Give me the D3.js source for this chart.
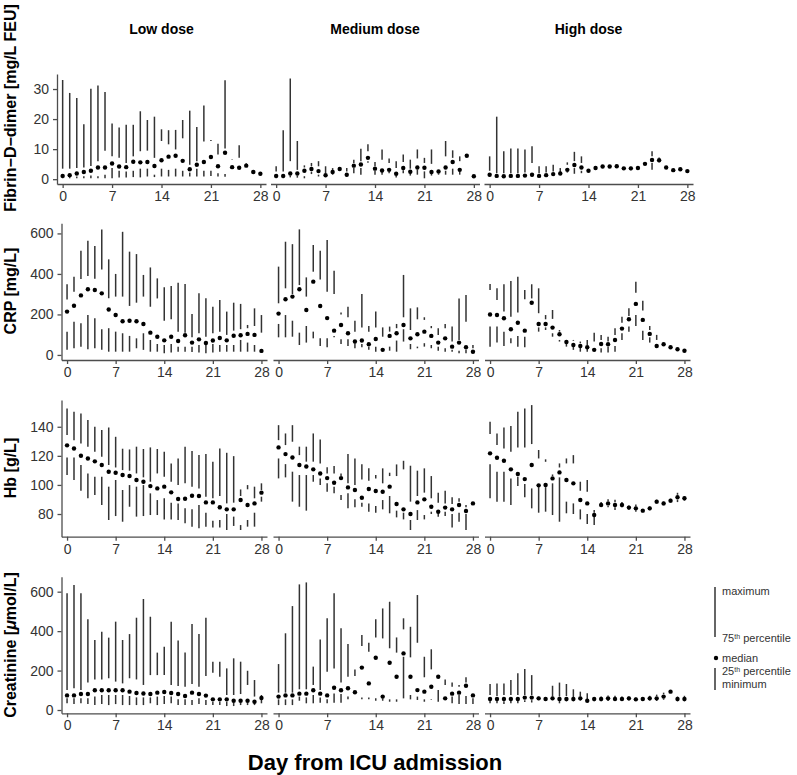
<!DOCTYPE html>
<html><head><meta charset="utf-8">
<script src="https://cdn.jsdelivr.net/npm/d3@7"></script>
<style>body{margin:0;background:#fff}text{font-family:"Liberation Sans",Arial,Helvetica,sans-serif}</style>
</head><body>
<svg id="chart" width="797" height="775"></svg>
<script>
const days = d3.range(0, 29);
const xTicks = [0, 7, 14, 21, 28];
const doses = ["Low dose", "Medium dose", "High dose"];
const rowTitles = ["Fibrin\u2212D\u2212dimer [mg/L FEU]", "CRP [mg/L]", "Hb [g/L]", "Creatinine [\u03bcmol/L]"];
const yTicksDdimer = [0, 10, 20, 30];
const yTicksCrp = [0, 200, 400, 600];
const yTicksHb = [80, 100, 120, 140];
const yTicksCreat = [0, 200, 400, 600];

// ---- Fibrin-D-dimer ----
const ddLowMin = [0.3,0.3,0.3,0.3,0.3,0.3,0.3,0.3,0.6,0.6,0.7,0.6,0.9,0.7,0.9,0.9,0.9,0.9,0.9,0.9,0.9,1.1,0.9,0.8,4.0,3.8,4.5,2.4,1.8];
const ddLowQ1  = [0.8,0.8,0.9,1.0,1.2,1.0,1.5,3.7,2.8,2.6,2.8,3.5,3.5,1.5,3.5,3.1,3.5,2.8,2.2,3.5,2.8,2.8,2.0,1.7,4.0,3.8,4.5,2.4,1.8];
const ddLowMed = [1.1,1.35,1.9,2.4,2.8,3.9,3.9,5.2,4.2,4.0,5.8,5.6,5.7,4.4,6.3,7.5,7.8,6.1,3.3,4.8,5.7,7.4,4.3,8.8,4.0,3.8,4.5,2.4,1.8];
const ddLowQ3  = [3.5,3.5,3.7,3.9,4.4,6.0,9.5,7.6,7.1,5.4,7.6,9.3,9.5,7.1,12.7,11.6,9.9,13.6,4.8,6.0,12.5,12.7,8.2,10.2,6.5,7.1,5.0,2.4,1.8];
const ddLowMax = [33.0,28.7,27.0,18.3,30.1,31.2,29.0,18.5,17.2,18.1,18.1,22.6,19.7,20.8,16.6,16.3,16.4,19.7,22.8,17.4,24.5,13.0,11.8,32.9,6.6,11.3,5.3,2.4,1.8];

const ddMedMin = [0.3,0.3,0.6,0.5,0.3,1.7,0.9,0.6,1.5,3.4,0.9,2.0,1.5,5.5,1.5,1.5,2.0,0.6,2.0,1.2,1.5,0.3,1.2,1.5,1.5,1.5,1.5,7.8,1.0];
const ddMedQ1  = [0.9,0.9,1.2,1.2,1.0,2.5,1.5,0.9,1.8,3.4,1.2,3.8,3.7,6.0,2.8,2.5,2.5,1.2,3.0,2.0,3.2,2.6,1.8,2.0,2.8,3.5,2.6,7.8,1.0];
const ddMedMed = [1.1,1.1,1.9,1.9,2.8,3.4,2.7,1.35,2.4,3.4,1.5,4.5,4.9,7.1,3.5,2.9,3.1,1.8,3.7,2.5,3.9,3.8,2.4,2.6,3.9,5.7,3.1,7.8,1.0];
const ddMedQ3  = [2.6,2.6,6.0,3.1,3.9,4.3,4.3,2.0,2.6,3.4,2.6,5.4,6.0,9.3,4.3,6.5,5.4,3.7,5.7,3.5,6.9,5.4,5.1,2.6,7.6,7.1,6.0,8.2,1.0];
const ddMedMax = [4.3,16.3,33.5,12.7,4.6,5.4,6.0,4.3,3.7,3.4,3.7,6.5,10.1,11.6,5.7,9.9,6.9,5.95,8.2,6.5,9.9,7.1,9.9,2.6,12.7,9.6,7.6,8.3,1.0];

const ddHighMin = [0.9,0.7,0.7,0.7,0.7,0.8,0.9,0.7,0.9,1.2,1.4,2.2,1.8,2.0,2.4,3.2,3.8,3.8,3.9,3.2,3.0,3.2,4.7,3.1,5.6,3.7,2.8,3.1,2.5];
const ddHighQ1  = [1.2,0.9,0.9,0.9,0.9,1.0,1.2,0.9,1.1,1.4,1.6,2.5,3.7,2.8,2.6,3.4,4.0,4.0,4.1,3.4,3.3,3.4,4.9,5.4,6.0,3.8,2.9,3.2,2.6];
const ddHighMed = [1.5,1.1,1.0,1.1,1.1,1.2,1.5,1.1,1.35,1.7,1.9,3.1,4.7,3.9,2.8,3.7,4.2,4.2,4.3,3.6,3.6,3.7,5.1,6.4,6.3,3.9,3.0,3.3,2.7];
const ddHighQ3  = [2.8,2.0,2.0,2.0,2.0,2.2,5.4,2.0,2.2,2.6,2.2,4.8,6.0,5.4,3.0,4.0,4.4,4.5,4.6,3.8,3.9,4.0,5.3,7.6,6.9,4.0,3.1,3.4,2.8];
const ddHighMax = [7.6,20.8,9.3,10.2,10.2,9.9,11.0,4.3,4.3,4.8,3.7,5.6,9.1,7.6,3.2,4.2,4.6,4.7,4.8,4.0,4.1,4.2,5.5,9.3,7.2,4.1,3.2,3.5,2.9];

// ---- CRP ----
const crpLowMin = [25,33,41,28,33,25,16,16,16,16,33,25,16,16,8,12,16,16,15,12,8,12,16,16,16,16,16,16,20];
const crpLowQ1  = [115,164,156,197,181,127,132,115,107,94,82,107,74,54,49,54,41,41,41,49,49,54,49,49,49,74,61,49,20];
const crpLowMed = [214,243,294,324,321,304,224,197,166,169,166,153,110,90,72,90,69,97,61,77,59,71,84,72,95,97,104,99,20];
const crpLowQ3  = [274,312,375,390,376,422,280,288,288,242,258,288,238,279,169,176,115,110,87,107,90,107,115,99,120,127,132,143,110];
const crpLowMax = [349,386,515,564,538,620,472,400,608,510,498,395,432,378,334,340,357,350,202,304,280,238,271,214,258,252,148,230,197];

const crpMedMin = [87,87,90,49,61,82,44,38,87,54,44,33,38,25,16,20,21,16,66,28,33,41,33,21,16,16,8,8,10];
const crpMedQ1  = [153,197,169,110,143,115,82,82,94,77,77,58,54,41,41,25,41,71,127,54,41,58,49,41,33,25,21,25,16];
const crpMedMed = [204,275,288,324,222,362,242,182,120,148,107,66,71,53,79,25,94,107,148,82,102,115,94,61,82,41,61,38,16];
const crpMedQ3  = [255,329,301,345,288,411,373,312,301,200,186,115,136,115,136,90,115,132,186,123,176,173,132,99,132,66,74,164,33];
const crpMedMax = [436,559,547,620,383,543,515,567,416,209,238,169,301,143,214,136,140,153,395,230,235,186,143,132,153,140,279,296,49];

const crpHighMin = [41,61,44,58,41,38,258,115,123,90,66,41,25,16,16,22,12,12,16,74,115,143,74,61,40,48,34,24,17];
const crpHighQ1  = [140,140,115,82,94,90,258,136,136,107,74,58,41,41,33,25,33,41,44,107,140,197,120,87,44,50,36,26,19];
const crpHighMed = [200,197,181,127,159,120,258,153,153,135,102,64,49,44,38,25,54,53,74,130,176,252,173,104,44,53,38,28,21];
const crpHighQ3  = [321,271,214,189,209,275,279,206,176,178,115,66,70,58,49,66,74,66,99,159,192,307,219,123,74,56,40,30,23];
const crpHighMax = [350,329,349,365,386,321,349,329,197,222,123,68,74,66,74,110,99,90,132,189,230,362,268,143,99,58,42,32,25];

// ---- Hb ----
const hbLowMin = [106.8,103.4,96,90.8,93.1,86.2,75.9,78.6,74.7,85,78.2,78.6,79.3,79.3,76.3,76.3,75.9,73.6,71.3,70.2,71.3,70.8,70.8,69,71.8,69,71.3,71.3,88.5];
const hbLowQ1  = [118.9,118.9,113.7,107.9,105.6,105.6,98.8,103.4,96.5,99.9,98.8,99.9,94.2,89.6,90.8,87.8,87.3,83.9,83.2,86.2,80.9,75.4,75.9,80,78.2,72.4,75.9,80.9,91.9];
const hbLowMed = [127.2,125.1,120.1,118.2,116.2,113.7,109.1,108.4,106.8,106.1,103.4,102.2,99.2,97.6,98.8,94.9,90.3,90.5,92.6,92.4,88,88,84.6,83.2,83.2,89.6,86.2,87.3,94.7];
const hbLowQ3  = [134.3,130.8,128.5,126.3,122.8,119.4,113.7,112,110.2,109.8,107.9,105.2,102.2,107.9,105.6,102.2,99.9,101.1,98.8,97.6,91.9,90.8,92.4,87.3,87.8,92.4,97,90.8,96.5];
const hbLowMax = [152.6,150.3,149.2,144.6,140,137.7,139.5,133.1,124.9,124.4,126.3,124.7,125.8,124.7,122.8,114.8,118.2,126.3,123.3,120.5,121.2,116,125.1,122.1,119.8,96.9,99.9,98.8,101.1];

const hbMedMin = [104.5,105.2,88.5,85,82.3,102.2,99.9,95.3,94.2,89.6,83.9,84.6,85,81.6,80.9,83.2,80.5,77.7,76.3,69,75.9,76.3,80,78.2,78.6,70.8,74.7,69,87.3];
const hbMedQ1  = [118.2,114.3,109.1,106.8,106.8,106.8,104.5,101.1,98.8,93.1,94.2,90.1,87.8,87.3,85.5,89.6,92.4,82.3,80.9,75.9,82.7,79.3,81.6,80.5,81.6,80,80.9,80,87.3];
const hbMedMed = [125.8,121.2,118.9,113.7,112.7,110.7,107.9,104.7,101.5,104.7,98.3,96.5,91.2,97.2,95.8,95.3,98.8,86.9,83.2,80,88,90.1,85,81.6,84.4,83.2,86.2,82.1,87.3];
const hbMedQ3  = [130.8,127.4,129.7,120.5,116,116,114.8,107.9,107.9,106.1,101.1,99.9,103.8,102.9,104.5,101.1,106.1,106.1,110.7,88.5,92.4,94.7,90.8,87.8,87.3,86.9,88.5,84.6,87.3];
const hbMedMax = [141.1,135.4,141.1,126.3,126.3,135.4,131.3,112.1,113,107.9,121.2,118.2,114.3,111.4,106.8,111.4,108.4,114.1,116.6,113.2,109.8,111.4,106.1,94.7,96,91.5,90.8,86.2,87.3];

const hbHighMin = [90.8,88.5,88.5,86.2,99.2,91.5,83.9,80.9,81.6,79.3,74.7,80.5,80,76.3,73.1,72.4,85,84.6,82.8,84.6,83,81.5,81.2,82.6,87.2,86,87.8,88.2,89.2];
const hbHighQ1  = [114.3,109.1,109.1,104.5,105.6,100.6,97.6,98.5,98.5,101.1,105.2,88.5,87.3,83.2,80,78.2,85.5,85.6,84.6,85.3,83.6,82.6,81.8,83.2,87.8,86.6,88.4,89.8,90];
const hbHighMed = [121.7,118.7,116.6,110.7,107.5,104,113.7,99.7,99.9,104.5,108.6,103.4,101.1,89.6,87.3,79.3,86.2,87.3,86.2,86.2,84.4,83.9,82.3,83.9,88.5,87.3,89.2,91.5,90.8];
const hbHighQ3  = [135,127.4,125.1,122.8,125.8,125.8,128.1,118.2,115.9,106.1,112,114.8,114.8,96,95.3,80.9,87.5,88.8,88.1,87.2,85.2,85.2,82.8,84.6,89.2,88,90,93.2,91.5];
const hbHighMax = [143.4,135.4,139.5,140.5,150.3,152.6,154.9,124,117.6,107.2,114.8,118.2,120.5,102.2,103.4,82.8,88.2,90.1,89.8,88.2,85.8,86.5,83.2,85.2,89.8,88.5,90.5,94.6,92];

// ---- Creatinine ----
const crLowMin = [34,30,34,30,25,30,25,30,25,25,25,25,34,25,30,34,25,25,25,30,25,25,25,20,20,25,25,25,34];
const crLowQ1  = [59,59,59,59,68,76,76,76,76,71,64,64,64,68,71,68,54,54,51,59,51,42,42,42,37,37,37,37,51];
const crLowMed = [74,74,81,81,100,100,100,100,100,93,86,84,81,88,91,86,81,71,88,81,73,54,54,54,47,47,47,42,61];
const crLowQ3  = [101,110,101,139,155,155,161,144,135,161,155,127,177,177,177,127,122,118,132,118,172,189,169,76,76,81,127,68,68];
const crLowMax = [592,634,592,460,355,397,367,448,355,385,468,563,473,291,321,448,352,291,436,385,468,245,245,211,262,245,199,152,76];

const crMedMin = [25,25,25,47,34,34,37,34,37,37,54,54,54,54,47,47,42,42,59,54,51,42,51,42,34,34,30,30,30];
const crMedQ1  = [54,54,54,68,64,76,64,54,84,81,68,54,64,64,59,59,54,54,270,76,68,54,54,101,34,68,76,71,59];
const crMedMed = [68,74,74,83,83,100,83,74,113,100,110,90,215,135,265,68,240,169,287,169,101,93,118,169,59,83,88,123,74];
const crMedQ3  = [88,88,88,105,105,127,101,194,211,139,169,172,324,296,368,363,313,291,409,267,341,166,206,169,127,118,118,139,74];
const crMedMax = [233,389,527,637,647,220,358,465,592,414,335,206,380,341,460,515,549,368,465,422,583,270,308,169,155,139,127,166,74];

const crHighMin = [34,34,30,34,34,40,38,50,48,50,34,44,44,48,40,44,44,46,46,48,48,46,46,48,46,52,93,44,44];
const crHighQ1  = [46,46,44,46,46,50,50,54,52,54,47,50,50,54,44,50,50,52,50,52,52,50,52,52,52,58,93,50,50];
const crHighMed = [56,56,56,56,56,63,63,59,56,59,56,56,56,59,47,56,56,59,56,56,59,54,56,59,59,68,93,56,56];
const crHighQ3  = [76,71,76,76,76,76,76,63,60,68,68,71,63,68,56,62,64,68,66,64,65,60,62,66,70,80,93,64,66];
const crHighMax = [132,135,135,152,186,208,177,68,62,123,139,132,105,93,85,66,68,74,72,68,68,64,66,72,78,88,93,68,72];

const rowData = [
  { title: rowTitles[0], ticks: yTicksDdimer, panels: [
    [ddLowMin, ddLowQ1, ddLowMed, ddLowQ3, ddLowMax],
    [ddMedMin, ddMedQ1, ddMedMed, ddMedQ3, ddMedMax],
    [ddHighMin, ddHighQ1, ddHighMed, ddHighQ3, ddHighMax]] },
  { title: rowTitles[1], ticks: yTicksCrp, panels: [
    [crpLowMin, crpLowQ1, crpLowMed, crpLowQ3, crpLowMax],
    [crpMedMin, crpMedQ1, crpMedMed, crpMedQ3, crpMedMax],
    [crpHighMin, crpHighQ1, crpHighMed, crpHighQ3, crpHighMax]] },
  { title: rowTitles[2], ticks: yTicksHb, panels: [
    [hbLowMin, hbLowQ1, hbLowMed, hbLowQ3, hbLowMax],
    [hbMedMin, hbMedQ1, hbMedMed, hbMedQ3, hbMedMax],
    [hbHighMin, hbHighQ1, hbHighMed, hbHighQ3, hbHighMax]] },
  { title: rowTitles[3], ticks: yTicksCreat, panels: [
    [crLowMin, crLowQ1, crLowMed, crLowQ3, crLowMax],
    [crMedMin, crMedQ1, crMedMed, crMedQ3, crMedMax],
    [crHighMin, crHighQ1, crHighMed, crHighQ3, crHighMax]] }
];

// layout (geometry only)
const layout = [
  { top: 74,    bottom: 184,   left: 57,   width: 209,   gap: 4.5, domain: [-1.6, 35],    titleY: 108 },
  { top: 223.3, bottom: 360,   left: 61.5, width: 205.5, gap: 6,   domain: [-25, 650],    titleY: 291 },
  { top: 400,   bottom: 536.7, left: 61.5, width: 205.5, gap: 6,   domain: [64.4, 158.4], titleY: 468 },
  { top: 576.7, bottom: 713.3, left: 61.5, width: 205.5, gap: 6,   domain: [-16.7, 676],  titleY: 645 }
];

const svg = d3.select("#chart");
const axisCol = "#4d4d4d", segCol = "#333", tickTxt = "#333";

rowData.forEach((row, r) => {
  const L = layout[r];
  const y = d3.scaleLinear().domain(L.domain).range([L.bottom, L.top]);
  row.panels.forEach((p, c) => {
    const x0 = L.left + c * (L.width + L.gap);
    const x = d3.scaleLinear().domain([-0.8, 28.8]).range([x0, x0 + L.width]);
    const g = svg.append("g");
    const xa = g.append("g").attr("transform", `translate(0,${L.bottom})`)
      .call(d3.axisBottom(x).tickValues(xTicks).tickSize(4).tickSizeOuter(0).tickPadding(3));
    xa.select(".domain").attr("stroke", axisCol).attr("stroke-width", 1.3);
    xa.selectAll(".tick line").attr("stroke", axisCol).attr("stroke-width", 1.3);
    xa.selectAll(".tick text").attr("font-size", 14).attr("fill", tickTxt)
      .style("font-family", '"Liberation Sans",Arial,sans-serif');
    if (c === 0) {
      const ya = g.append("g").attr("transform", `translate(${L.left},0)`)
        .call(d3.axisLeft(y).tickValues(row.ticks).tickSize(4).tickSizeOuter(0).tickPadding(4));
      ya.select(".domain").attr("stroke", axisCol).attr("stroke-width", 1.3);
      ya.selectAll(".tick line").attr("stroke", axisCol).attr("stroke-width", 1.3);
      ya.selectAll(".tick text").attr("font-size", 14).attr("fill", tickTxt)
        .style("font-family", '"Liberation Sans",Arial,sans-serif');
    }
    const [mn, q1, md, q3, mx] = p;
    g.selectAll(".lo").data(days).join("line")
      .attr("x1", d => x(d)).attr("x2", d => x(d))
      .attr("y1", d => y(mn[d])).attr("y2", d => y(q1[d]))
      .attr("stroke", segCol).attr("stroke-width", 1.5);
    g.selectAll(".hi").data(days).join("line")
      .attr("x1", d => x(d)).attr("x2", d => x(d))
      .attr("y1", d => y(q3[d])).attr("y2", d => y(mx[d]))
      .attr("stroke", segCol).attr("stroke-width", 1.5);
    g.selectAll(".md").data(days).join("circle")
      .attr("cx", d => x(d)).attr("cy", d => y(md[d])).attr("r", 2.2).attr("fill", "#000");
    if (r === 0) {
      svg.append("text").attr("x", x(14)).attr("y", 29).attr("dy", "0.35em")
        .attr("text-anchor", "middle").attr("font-size", 14).attr("font-weight", "bold")
        .text(doses[c]);
    }
  });
  const t = svg.append("text").attr("transform", `translate(10,${L.titleY}) rotate(-90)`)
    .attr("text-anchor", "middle").attr("dy", "0.35em").attr("font-size", 16).attr("font-weight", "bold");
  if (r === 3) {
    t.append("tspan").text("Creatinine [");
    t.append("tspan").attr("font-style", "italic").text("\u03bc");
    t.append("tspan").text("mol/L]");
  } else t.text(row.title);
});

svg.append("text").attr("x", 375).attr("y", 762).attr("dy", "0.35em").attr("text-anchor", "middle")
  .attr("font-size", 22).attr("font-weight", "bold").text("Day from ICU admission");

const lg = svg.append("g").attr("font-size", 11).attr("fill", "#333");
lg.append("line").attr("x1", 715).attr("x2", 715).attr("y1", 587).attr("y2", 637).attr("stroke", segCol).attr("stroke-width", 1.5);
lg.append("line").attr("x1", 715).attr("x2", 715).attr("y1", 668).attr("y2", 690).attr("stroke", segCol).attr("stroke-width", 1.5);
lg.append("circle").attr("cx", 716).attr("cy", 658).attr("r", 2.2).attr("fill", "#000");
lg.append("text").attr("x", 722).attr("y", 591).attr("dy", "0.35em").text("maximum");
const t75 = lg.append("text").attr("x", 722).attr("y", 638).attr("dy", "0.35em");
t75.append("tspan").text("75");
t75.append("tspan").attr("font-size", 7).attr("dy", "-0.45em").text("th");
t75.append("tspan").attr("dy", "0.3em").text(" percentile");
lg.append("text").attr("x", 722).attr("y", 658).attr("dy", "0.35em").text("median");
const t25 = lg.append("text").attr("x", 722).attr("y", 671).attr("dy", "0.35em");
t25.append("tspan").text("25");
t25.append("tspan").attr("font-size", 7).attr("dy", "-0.45em").text("th");
t25.append("tspan").attr("dy", "0.3em").text(" percentile");
lg.append("text").attr("x", 722).attr("y", 684).attr("dy", "0.35em").text("minimum");
</script>
</body></html>
